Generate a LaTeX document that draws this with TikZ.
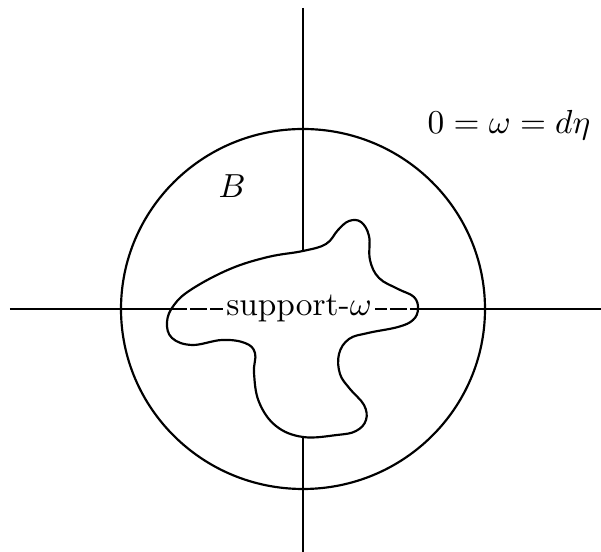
\documentclass[tikz,border=0pt]{standalone}
\usepackage{amsmath,amssymb}
\usepackage{tikz}

\begin{document}
\begin{tikzpicture}[x=0.3pt, y=-0.3pt, line width=0.65pt, axis/.style = {line width=0.65pt}, inaxis/.style = {line width=0.4pt, dash pattern=on 5pt off 1pt}, label/.style = {inner sep=1pt}]

    \useasboundingbox (0,0) rectangle (601,552);

    \coordinate (o) at (303,309);
    \coordinate (top) at (303,8);
    \coordinate (bot) at (303,552);
    \coordinate (left) at (10,309);
    \coordinate (right) at (601,309);
    \coordinate (stop) at (303,251);
    \coordinate (sbot) at (303,437);
    \coordinate (sleft) at (170,309);
    \coordinate (sright) at (418,309);

    \draw (o) circle[x radius=182, y radius=180];

    \draw plot[smooth cycle, tension=0.65] coordinates {(303,251) (326,244) (338,230) (349,221) (361,222) (369,236) (370,260) (379,278) (398,289) (414,297) (418,309) (413,320) (398,327) (368,333) (349,339) (339,354) (340,374) (350,389) (364,405) (366,420) (356,431) (337,435) (303,437) (276,426) (259,402) (254,373) (255,353) (245,343) (222,340) (192,345) (172,338) (167,322) (174,305) (192,289) (230,269) (268,257)};

    \draw[axis] (top) -- (stop);
    \draw[axis] (sbot) -- (bot);
    \draw[axis] (left) -- (sleft);
    \draw[axis] (sright) -- (right);
    \draw[inaxis] (sleft) -- (sright);

    \node[label, fill=white, anchor=base] (supp) at (299,316) {support-$\omega$};
    \node[label] (ball) at (232,186) {$B$};
    \node[label] (eq) at (509,125) {$0=\omega=d\eta$};

\end{tikzpicture}
\end{document}
